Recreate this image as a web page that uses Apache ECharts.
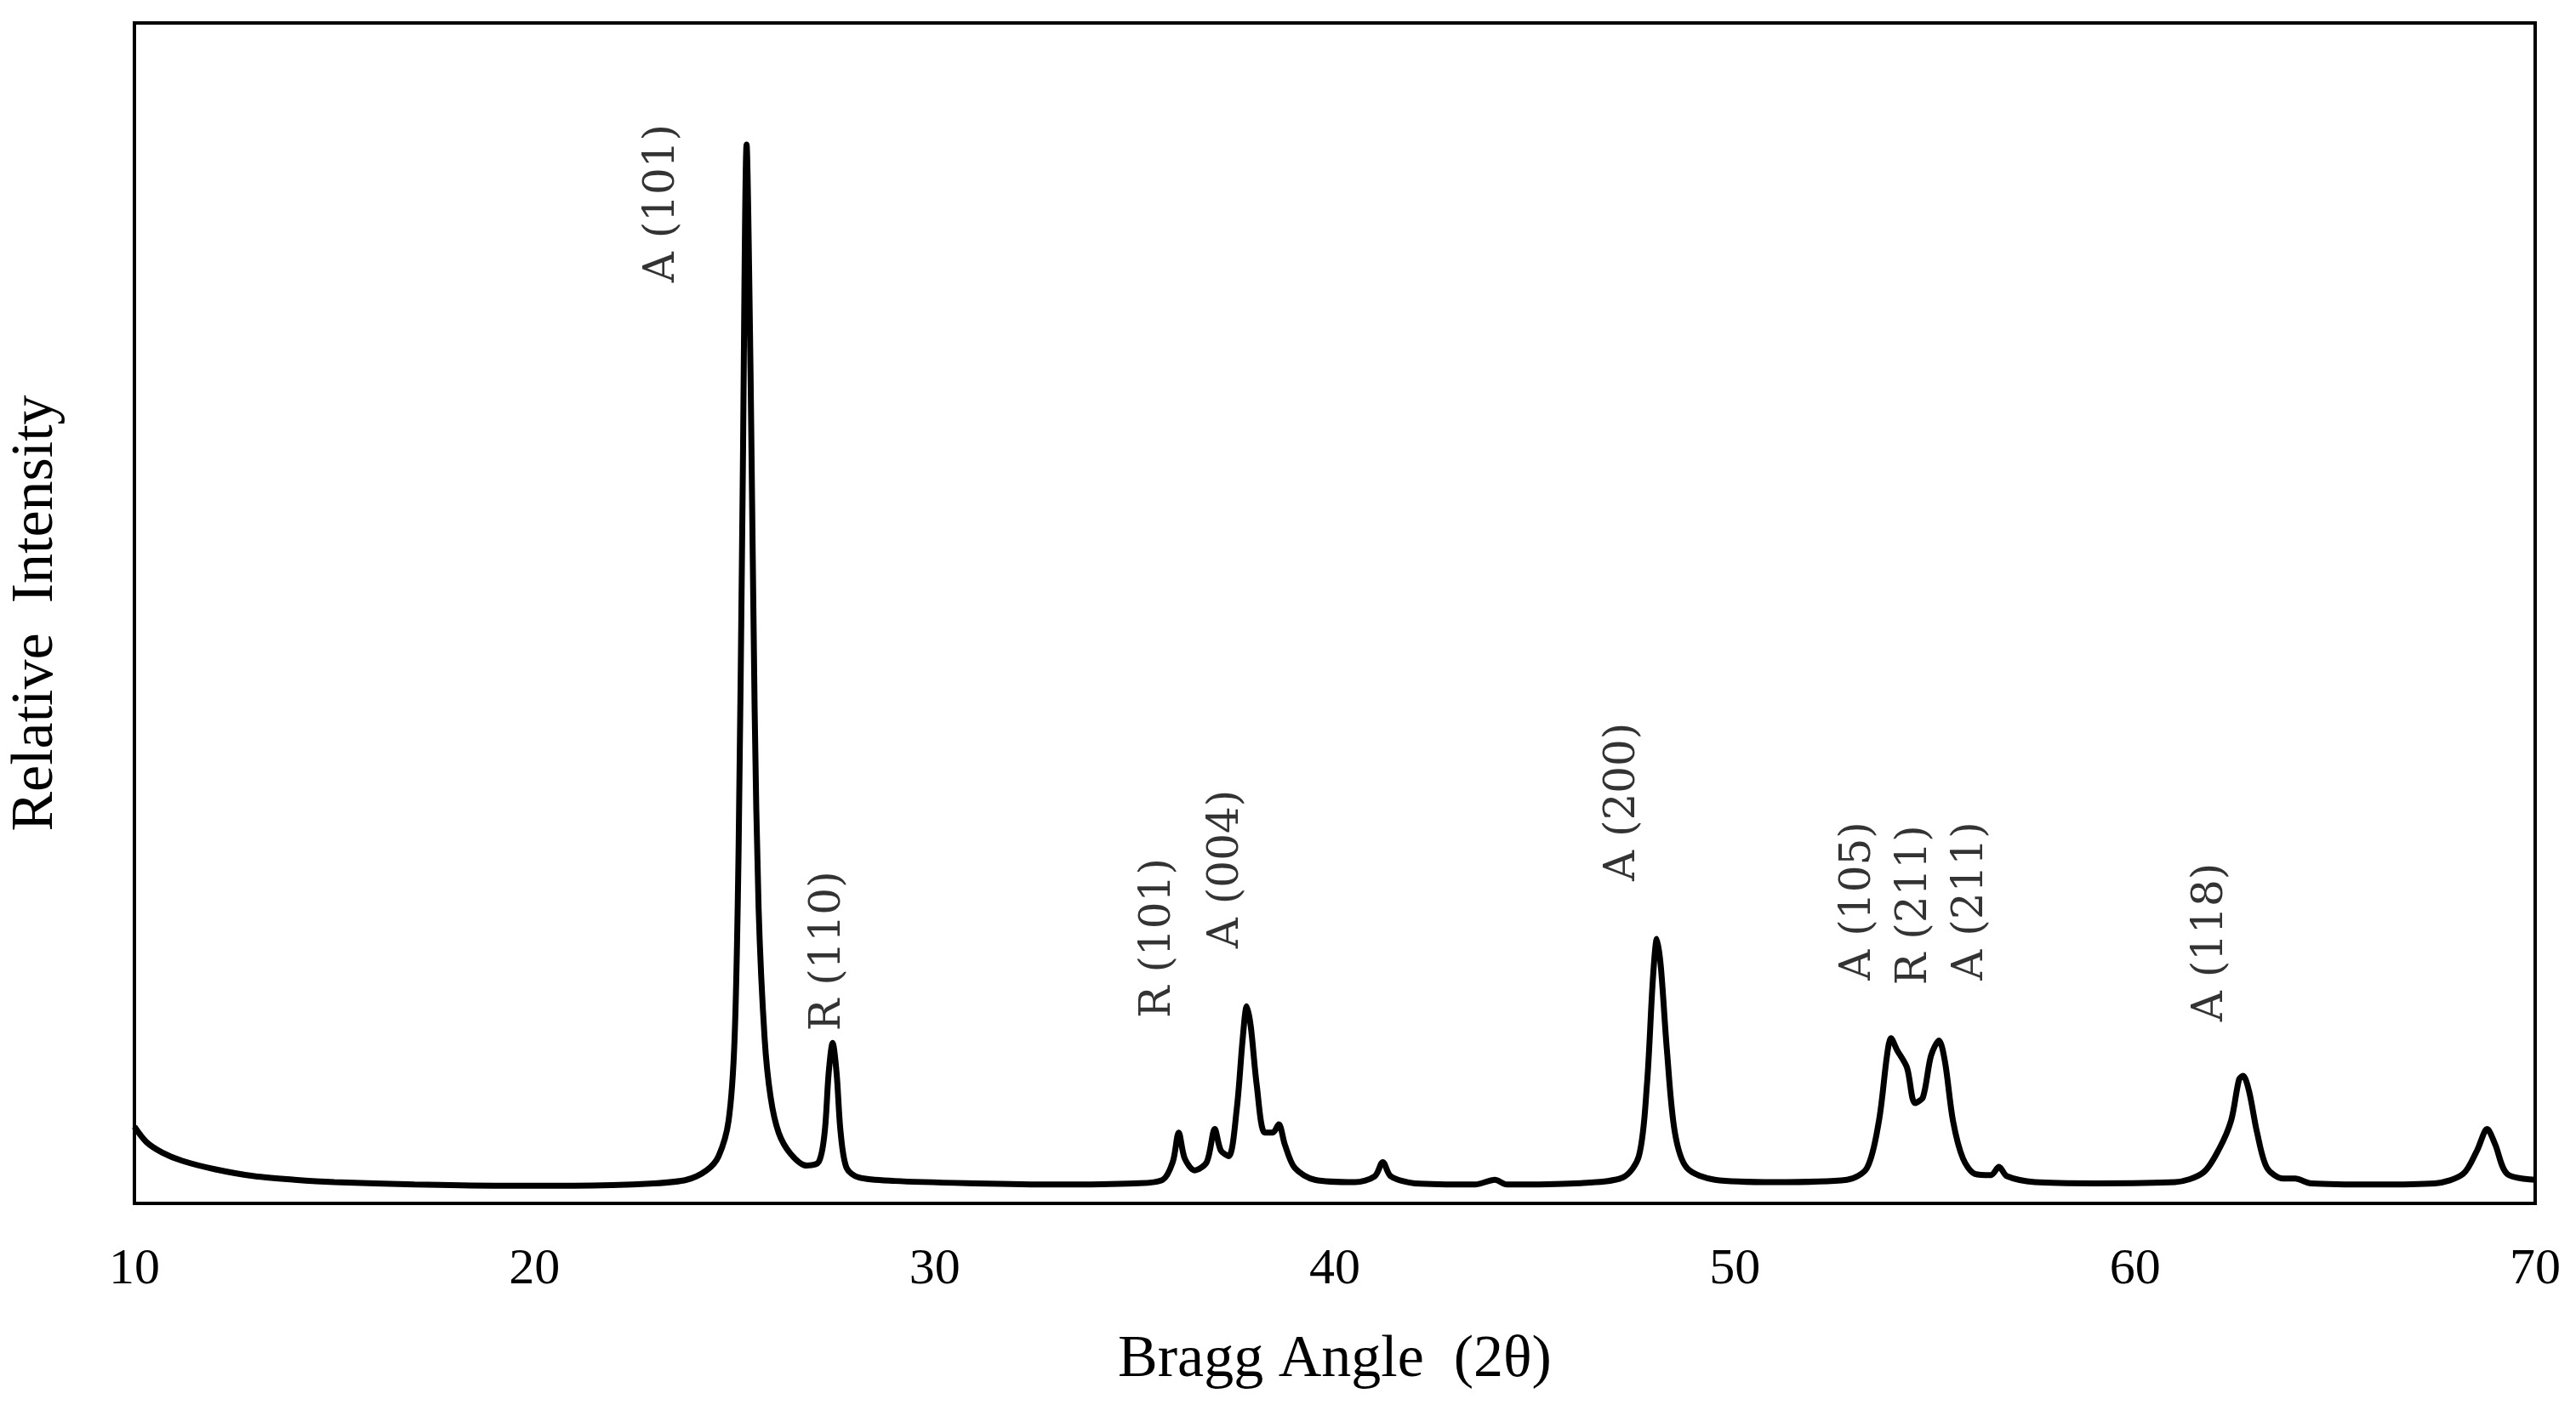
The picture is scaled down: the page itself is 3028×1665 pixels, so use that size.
<!DOCTYPE html>
<html>
<head>
<meta charset="utf-8">
<script src="https://cdn.jsdelivr.net/npm/echarts@6/dist/echarts.min.js"></script>
<style>html,body{margin:0;padding:0;background:#fff}#chart{width:3028px;height:1665px}</style>
</head>
<body>
<div id="chart"></div>
<script>
// XRD pattern, [2theta, relative intensity]
const pattern = [
  [10,6.5],[10.3,5.2],[10.7,4.3],[11.2,3.6],[12,2.9],[13,2.3],[14,2.0],[15,1.8],[17,1.6],[19,1.5],
  [21,1.5],[23,1.7],[23.8,2.0],[24.3,2.8],[24.6,4],[24.85,7],[25.0,14],[25.1,30],[25.2,60],[25.3,89.7],
  [25.4,70],[25.5,42],[25.6,25],[25.75,14],[25.9,9],[26.1,6],[26.4,4.2],[26.8,3.2],[27.1,3.5],[27.25,6],
  [27.35,11],[27.45,13.6],[27.55,11],[27.65,6],[27.8,3],[28.1,2.2],[29,1.9],[31,1.7],[33,1.6],[35,1.7],
  [35.7,2.0],[35.95,3.5],[36.1,6],[36.25,3.8],[36.5,2.8],[36.8,3.5],[37.0,6.3],[37.15,4.5],[37.35,4.0],
  [37.55,8],[37.7,14],[37.8,16.7],[37.9,15],[38.05,10],[38.25,6],[38.45,6.0],[38.6,6.7],[38.75,5],[39,3],
  [39.5,2],[40.5,1.8],[41.0,2.3],[41.2,3.5],[41.4,2.3],[42,1.7],[43.5,1.6],[44,2],[44.3,1.6],[46,1.7],
  [47.2,2.2],[47.6,4],[47.8,10],[47.95,19],[48.05,22.4],[48.15,20],[48.3,13],[48.5,6],[48.8,3],[49.5,2],
  [51,1.8],[52.8,2],[53.3,3],[53.6,7],[53.8,12.5],[53.9,14],[54.05,13],[54.3,11.5],[54.5,8.5],[54.7,9],
  [54.9,12.5],[55.1,13.8],[55.25,12],[55.45,7],[55.7,3.8],[56,2.5],[56.4,2.4],[56.6,3.1],[56.8,2.3],
  [57.5,1.8],[59,1.7],[61,1.8],[61.7,2.6],[62.1,4.6],[62.4,7],[62.6,10.5],[62.7,10.8],[62.85,9.5],
  [63.05,6],[63.3,3],[63.7,2.1],[64,2.1],[64.4,1.7],[66,1.6],[67.5,1.7],[68.2,2.5],[68.55,4.5],
  [68.8,6.3],[69.0,5],[69.3,2.5],[70,2]
];
// peak labels: text, 2theta, intensity at label start
const peakNames = ['A (101)','R (110)','R (101)','A (004)','A (200)','A (105)','R (211)','A (211)','A (118)'];
const peakX = [23.2,27.35,35.6,37.3,47.2,53.1,54.5,55.9,61.9];
const peakY = [78,14.6,15.7,21.6,27.3,18.9,18.5,18.9,15.4];
const xTicks = [10,20,30,40,50,60,70];

const chart = echarts.init(document.getElementById('chart'));
chart.setOption({
  animation: false,
  grid: { left: 154, right: 48, top: 27, bottom: 250, show: true, borderColor: '#000', borderWidth: 4 },
  xAxis: {
    type: 'value', min: xTicks[0], max: xTicks[xTicks.length - 1], interval: 10,
    name: 'Bragg Angle  (2θ)', nameLocation: 'middle', nameGap: 150,
    nameTextStyle: { fontFamily: 'Liberation Serif', fontSize: 70, color: '#000' },
    axisLine: { lineStyle: { color: '#000', width: 4 } },
    axisTick: { show: false },
    axisLabel: { fontFamily: 'Liberation Serif', fontSize: 60, color: '#000', margin: 48 },
    splitLine: { show: false }
  },
  yAxis: {
    type: 'value', min: 0, max: 100,
    name: 'Relative  Intensity', nameLocation: 'middle', nameGap: 80,
    nameTextStyle: { fontFamily: 'Liberation Serif', fontSize: 70, color: '#000' },
    axisLine: { show: true, lineStyle: { color: '#000', width: 4 } },
    axisTick: { show: false }, axisLabel: { show: false }, splitLine: { show: false }
  },
  series: [
    {
      type: 'line', data: pattern, showSymbol: false, smooth: 0.3,
      lineStyle: { color: '#000', width: 7 }
    },
    {
      type: 'scatter', symbolSize: 0,
      data: peakNames.map((n, i) => ({ value: [peakX[i], peakY[i]], name: n })),
      label: {
        show: true, position: 'inside', rotate: 90, align: 'left', verticalAlign: 'middle',
        formatter: p => p.name, fontFamily: 'DejaVu Serif', fontSize: 50, color: '#000'
      }
    }
  ]
});
</script>
</body>
</html>
